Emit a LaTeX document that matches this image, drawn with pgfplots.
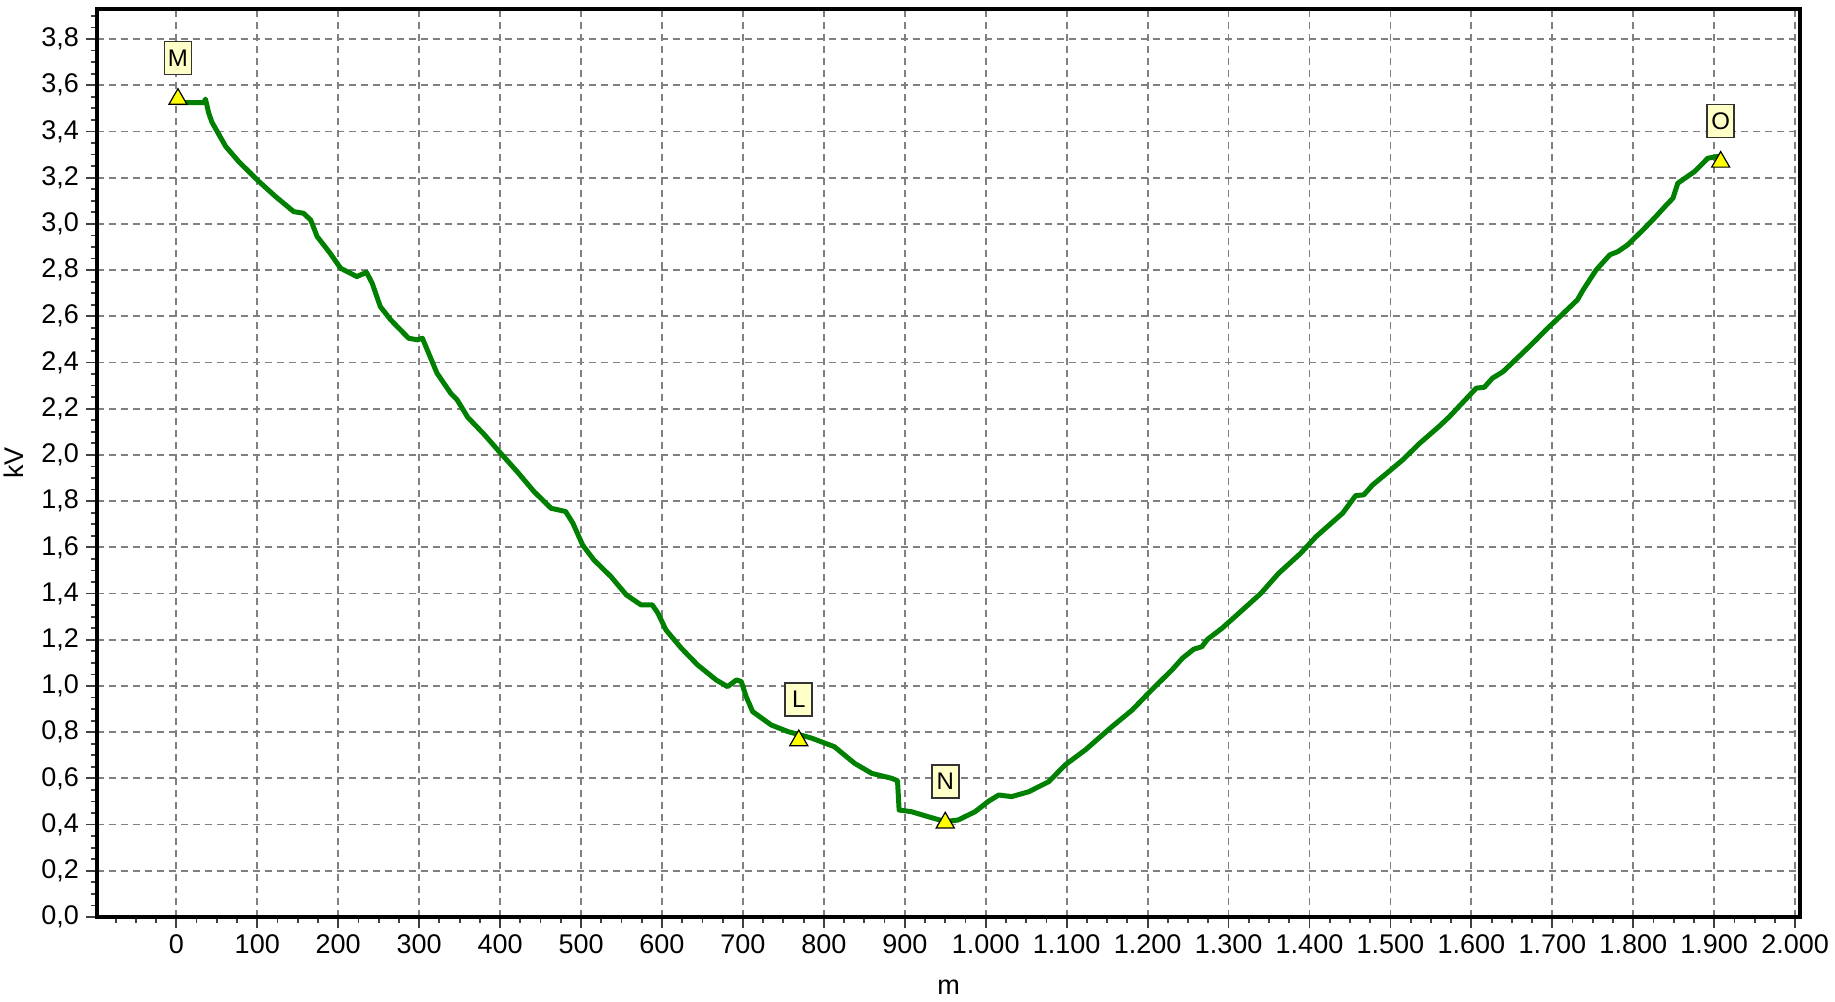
\documentclass[border=0pt]{standalone}
\usepackage{fontspec}
\setmainfont{Liberation Sans}
\usepackage{pgfplots}
\pgfplotsset{compat=1.18}
\usepackage{pgfplotstable}

\definecolor{curvegreen}{RGB}{0,128,0}
\definecolor{boxyellow}{RGB}{255,255,200}
\definecolor{markyellow}{RGB}{255,255,0}
\definecolor{gridgray}{RGB}{128,128,128}

% voltage profile along the line (m, kV)
\pgfplotstableread{
x v
0 3.525
34 3.525
36 3.54
40 3.48
44 3.44
61 3.335
77 3.27
100 3.19
122 3.12
145 3.053
157 3.046
166 3.017
174 2.945
190 2.873
203 2.808
223 2.772
235 2.79
242 2.743
252 2.642
265 2.584
287 2.505
298 2.498
304 2.505
310 2.455
322 2.354
339 2.267
347 2.238
360 2.163
380 2.09
400 2.01
421 1.928
442 1.841
463 1.769
481 1.755
490 1.704
502 1.61
516 1.545
537 1.473
556 1.394
574 1.351
588 1.351
595 1.315
605 1.242
624 1.163
644 1.091
667 1.026
681 0.997
692 1.026
698 1.019
704 0.954
712 0.889
735 0.831
756 0.802
769 0.79
785 0.774
813 0.737
838 0.665
859 0.622
884 0.6
891 0.59
893 0.463
908 0.456
929 0.434
950 0.413
966 0.42
987 0.456
1003 0.5
1016 0.528
1032 0.521
1053 0.542
1078 0.586
1098 0.658
1123 0.723
1156 0.824
1181 0.896
1205 0.983
1230 1.069
1243 1.12
1257 1.159
1267 1.17
1274 1.202
1292 1.25
1315 1.322
1340 1.401
1362 1.488
1389 1.574
1408 1.646
1441 1.748
1457 1.824
1467 1.827
1478 1.870
1498 1.928
1515 1.978
1536 2.05
1560 2.123
1573 2.166
1606 2.289
1616 2.293
1626 2.332
1639 2.36
1663 2.44
1680 2.498
1692 2.541
1705 2.584
1731 2.671
1738 2.714
1754 2.80
1771 2.866
1781 2.88
1793 2.909
1812 2.974
1828 3.032
1841 3.082
1849 3.111
1855 3.176
1864 3.198
1876 3.227
1892 3.284
1903 3.291
1908 3.29
}\profile

% labelled points
\pgfplotstableread{
x v name
2 3.54 M
769 0.764 L
950 0.408 N
1908 3.268 O
}\points

\begin{document}
\begin{tikzpicture}
\begin{axis}[
    scale only axis,
    width=851.5pt, height=454pt,
    xmin=-98, xmax=2006,
    ymin=0, ymax=3.93,
    xtick distance=100, ytick distance=0.2,
    minor x tick num=3, minor y tick num=3,
    scaled x ticks=false, scaled y ticks=false,
    /pgf/number format/assume math mode=true,
    xticklabel style={/pgf/number format/.cd, 1000 sep={.}},
    yticklabel style={/pgf/number format/.cd, fixed, fixed zerofill, precision=1, use comma},
    tick label style={font=\fontsize{13.5}{16}\selectfont, text=black},
    tick align=outside, tick pos=left,
    major tick length=5.5pt, minor tick length=3pt,
    tick style={line width=0.9pt, black!75},
    axis line style={line width=1.8pt, black},
    grid=major,
    major grid style={gridgray, line width=0.9pt, dash pattern=on 3.5pt off 2.5pt},
    xlabel={m}, ylabel={kV},
    every axis x label/.style={at={(rel axis cs:0.5,0)}, yshift=-35pt, anchor=center,
        font=\fontsize{13.5}{16}\selectfont},
    every axis y label/.style={at={(rel axis cs:0,0.5)}, xshift=-41.5pt, rotate=90, anchor=center,
        font=\fontsize{13.5}{16}\selectfont},
]
\addplot[curvegreen, line width=2.5pt, line join=round, mark=none] table[x=x, y=v] {\profile};
\addplot[only marks, mark=triangle*, mark size=5.2pt,
    mark options={fill=markyellow, draw=black, line width=0.6pt},
    nodes near coords, point meta=explicit symbolic,
    every node near coord/.append style={draw=black!80, fill=boxyellow, line width=0.8pt,
        minimum width=13.5pt, minimum height=16.5pt, inner sep=0pt, text=black,
        font=\fontsize{12}{14}\selectfont, anchor=center, yshift=20.5pt}]
    table[x=x, y=v, meta=name] {\points};
\coordinate (sw) at (rel axis cs:0,0);
\coordinate (ne) at (rel axis cs:1,1);
\end{axis}
\pgfresetboundingbox
\path ([shift={(-48.5pt,-42pt)}]sw) rectangle ([shift={(17.5pt,4.5pt)}]ne);
\end{tikzpicture}
\end{document}
